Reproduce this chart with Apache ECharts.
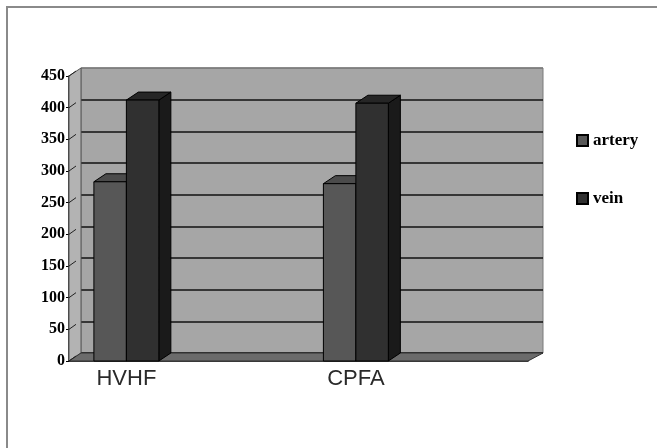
<!DOCTYPE html>
<html>
<head>
<meta charset="utf-8">
<script src="https://cdn.jsdelivr.net/npm/echarts@6/dist/echarts.min.js"></script>
<style>
  html, body { margin: 0; padding: 0; background: #fff; }
  #chart { position: absolute; left: 0; top: 0; width: 657px; height: 448px; }
  #frame { position: absolute; left: 6px; top: 6px; right: 0; bottom: 0;
           border-top: 2px solid #8a8a8a; border-left: 2px solid #8a8a8a; }
</style>
</head>
<body>
<div id="chart"></div>
<div id="frame"></div>
<script>
// data
const categories = ['HVHF', '', 'CPFA', ''];
const artery = [283, '-', 280, '-'];
const vein = [412, '-', 407, '-'];
const yMin = 0, yMax = 450, yStep = 50;

// front plane / back wall (3d look)
const front = { left: 69, top: 76, width: 459, height: 285 };
const dx = 12, dy = -8;

const chart = echarts.init(document.getElementById('chart'));

function pairs(values) {
  return categories.map((c, i) => [i, values[i]]).filter(d => d[1] !== '-');
}

// draws a 3d column: front face, top face, right side
function bar3d(side, faces) {
  return function (params, api) {
    const cat = api.value(0), val = api.value(1);
    const top = api.coord([cat, val]);
    const base = api.coord([cat, 0]);
    const bw = api.size([1, 0])[0] * 0.283;
    const x0 = side < 0 ? top[0] - bw : top[0];
    const x1 = x0 + bw;
    const yt = top[1], yb = base[1];
    const stroke = { stroke: '#000', lineWidth: 1 };
    return {
      type: 'group',
      children: [
        { type: 'polygon', shape: { points: [[x1, yt], [x1 + dx, yt + dy], [x1 + dx, yb + dy], [x1, yb]] },
          style: Object.assign({ fill: faces[2] }, stroke) },
        { type: 'polygon', shape: { points: [[x0, yt], [x1, yt], [x1 + dx, yt + dy], [x0 + dx, yt + dy]] },
          style: Object.assign({ fill: faces[1] }, stroke) },
        { type: 'rect', shape: { x: x0, y: yt, width: bw, height: yb - yt },
          style: Object.assign({ fill: faces[0] }, stroke) }
      ]
    };
  };
}

// side wall ticks
const wallLines = [];
for (let v = yMin; v <= yMax; v += yStep) {
  const y = front.top + front.height - (v - yMin) / (yMax - yMin) * front.height;
  wallLines.push({ type: 'line', z: 1, shape: { x1: front.left, y1: y, x2: front.left + 7, y2: y - 5 },
    style: { stroke: '#222', lineWidth: 1 } });
}
const fx0 = front.left, fy0 = front.top, fy1 = front.top + front.height, fx1 = front.left + front.width;

const gridColors = [];
for (let v = yMin; v <= yMax; v += yStep) gridColors.push(v === yMax ? '#7a7a7a' : '#111');

chart.setOption({
  animation: false,
  grid: [
    { left: front.left + dx, top: front.top + dy, width: front.width + 3, height: front.height,
      show: true, backgroundColor: '#a6a6a6', borderColor: '#7a7a7a', borderWidth: 1, containLabel: false },
    { left: front.left, top: front.top, width: front.width, height: front.height, containLabel: false }
  ],
  legend: {
    orient: 'vertical', left: 571, top: 127, itemWidth: 11, itemHeight: 11, itemGap: 41,
    icon: 'rect',
    textStyle: { fontFamily: 'Liberation Serif', fontWeight: 'bold', fontSize: 17, color: '#000' },
    data: ['artery', 'vein']
  },
  xAxis: [
    { gridIndex: 0, type: 'category', data: categories, show: false },
    { gridIndex: 1, type: 'category', data: categories,
      axisLine: { show: true, lineStyle: { color: '#000', width: 1.5 } },
      axisTick: { show: true, inside: true, length: 4, lineStyle: { color: '#000' } },
      axisLabel: { interval: 0, margin: 7, fontFamily: 'Liberation Sans', fontSize: 22, color: '#2a2a2a' } }
  ],
  yAxis: [
    { gridIndex: 0, type: 'value', min: yMin, max: yMax, interval: yStep,
      axisLine: { show: false }, axisTick: { show: false }, axisLabel: { show: false },
      splitLine: { show: true, lineStyle: { color: gridColors, width: 1.5 } } },
    { gridIndex: 1, type: 'value', min: yMin, max: yMax, interval: yStep,
      axisLine: { show: true, lineStyle: { color: '#000', width: 1.5 } },
      axisTick: { show: true, length: 3, lineStyle: { color: '#000' } },
      axisLabel: { margin: 4, fontFamily: 'Liberation Serif', fontWeight: 'bold', fontSize: 16, color: '#000' },
      splitLine: { show: false } }
  ],
  graphic: [
    { type: 'polygon', z: 1, shape: { points: [[fx0, fy0], [fx0 + dx, fy0 + dy], [fx0 + dx, fy1 + dy], [fx0, fy1]] },
      style: { fill: '#b3b3b3', stroke: '#555', lineWidth: 1 } },
    { type: 'polygon', z: 1, shape: { points: [[fx0, fy1], [fx0 + dx, fy1 + dy], [fx1 + dx + 3, fy1 + dy], [fx1, fy1]] },
      style: { fill: '#6b6b6b', stroke: '#333', lineWidth: 1 } }
  ].concat(wallLines),
  series: [
    { name: 'artery', type: 'custom', xAxisIndex: 1, yAxisIndex: 1, z: 3,
      itemStyle: { color: '#575757', borderColor: '#000', borderWidth: 1 },
      renderItem: bar3d(-1, ['#575757', '#4b4b4b', '#3a3a3a']),
      encode: { x: 0, y: 1 }, data: pairs(artery) },
    { name: 'vein', type: 'custom', xAxisIndex: 1, yAxisIndex: 1, z: 4,
      itemStyle: { color: '#303030', borderColor: '#000', borderWidth: 1 },
      renderItem: bar3d(1, ['#303030', '#262626', '#1a1a1a']),
      encode: { x: 0, y: 1 }, data: pairs(vein) }
  ]
});
</script>
</body>
</html>
